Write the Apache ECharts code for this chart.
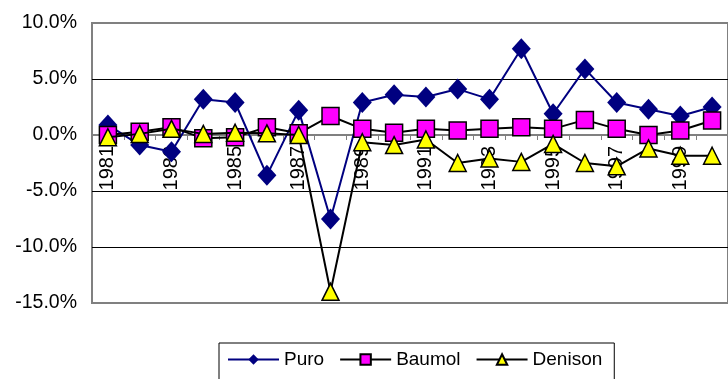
<!DOCTYPE html>
<html>
<head>
<meta charset="utf-8">
<script src="https://cdn.jsdelivr.net/npm/echarts@6/dist/echarts.min.js"></script>
<style>
  html, body { margin: 0; padding: 0; background: #fff; }
  #chart { width: 728px; height: 379px; }
</style>
</head>
<body>
<div id="chart"></div>
<script>
// Years on the category axis
const years = ['1981','1982','1983','1984','1985','1986','1987','1988','1989','1990',
               '1991','1992','1993','1994','1995','1996','1997','1998','1999','2000'];

// Annual growth rates, in percent
const puro    = [0.9, -0.9, -1.5, 3.2, 2.9, -3.6, 2.2, -7.5, 2.9, 3.6,
                 3.4, 4.1, 3.2, 7.7, 1.9, 5.9, 2.9, 2.3, 1.7, 2.5];
const baumol  = [0.0, 0.3, 0.7, -0.3, -0.2, 0.7, 0.15, 1.7, 0.55, 0.2,
                 0.55, 0.4, 0.55, 0.7, 0.55, 1.35, 0.55, 0.0, 0.4, 1.3];
const denison = [-0.2, 0.1, 0.55, 0.1, 0.2, 0.15, 0.0, -14.0, -0.65, -0.9,
                 -0.4, -2.5, -2.1, -2.4, -0.8, -2.5, -2.8, -1.2, -1.85, -1.85];

// Value axis range and step, in percent
const yMin = -15, yMax = 10, yStep = 5;

const FONT = "'Liberation Sans', Arial, sans-serif";
const GRID_TOP = 23, GRID_H = 280;
// distance from the plot's bottom edge up to the 0% line
const zeroOffset = GRID_H * (0 - yMin) / (yMax - yMin);

const chart = echarts.init(document.getElementById('chart'), null, { renderer: 'canvas' });

chart.setOption({
  animation: false,
  backgroundColor: '#ffffff',
  grid: {
    left: 92, top: GRID_TOP, width: 646, height: GRID_H,
    show: true, borderColor: '#808080', borderWidth: 2, backgroundColor: 'transparent'
  },
  legend: {
    left: 219, top: 343,
    padding: [7, 12, 30, 8],
    itemGap: 15,
    itemWidth: 51, itemHeight: 13,
    borderColor: '#000', borderWidth: 1,
    textStyle: { fontFamily: FONT, fontSize: 19, color: '#000' },
    data: ['Puro', 'Baumol', 'Denison']
  },
  xAxis: {
    type: 'category',
    data: years,
    boundaryGap: true,
    position: 'bottom',
    offset: -zeroOffset,
    axisLine: { onZero: false, lineStyle: { color: '#808080', width: 2 } },
    axisTick: { show: true, interval: 0, length: 5, lineStyle: { color: '#808080', width: 1 } },
    axisLabel: {
      interval: 1, rotate: 90, margin: 11,
      fontFamily: FONT, fontSize: 20, color: '#000'
    },
    splitLine: { show: false },
    z: 1
  },
  yAxis: {
    type: 'value',
    min: yMin, max: yMax, interval: yStep,
    axisLine: { show: false },
    axisTick: { show: false },
    axisLabel: {
      margin: 15, fontFamily: FONT, fontSize: 19.5, color: '#000',
      formatter: v => v.toFixed(1) + '%'
    },
    splitLine: {
      show: true, showMinLine: false, showMaxLine: false,
      lineStyle: { color: '#000', width: 1 }
    }
  },
  series: [
    {
      name: 'Puro', type: 'line', data: puro,
      symbol: 'diamond', symbolSize: [19, 21],
      lineStyle: { color: '#000080', width: 2 },
      itemStyle: { color: '#000080', borderColor: '#000080', borderWidth: 0 },
      z: 2
    },
    {
      name: 'Baumol', type: 'line', data: baumol,
      symbol: 'rect', symbolSize: 17,
      lineStyle: { color: '#000', width: 2 },
      itemStyle: { color: '#ff00ff', borderColor: '#000', borderWidth: 1.5 },
      z: 3
    },
    {
      name: 'Denison', type: 'line', data: denison,
      symbol: 'triangle', symbolSize: [17, 17],
      lineStyle: { color: '#000', width: 2 },
      itemStyle: { color: '#ffff00', borderColor: '#000', borderWidth: 1.5 },
      z: 4
    }
  ]
});
</script>
</body>
</html>
